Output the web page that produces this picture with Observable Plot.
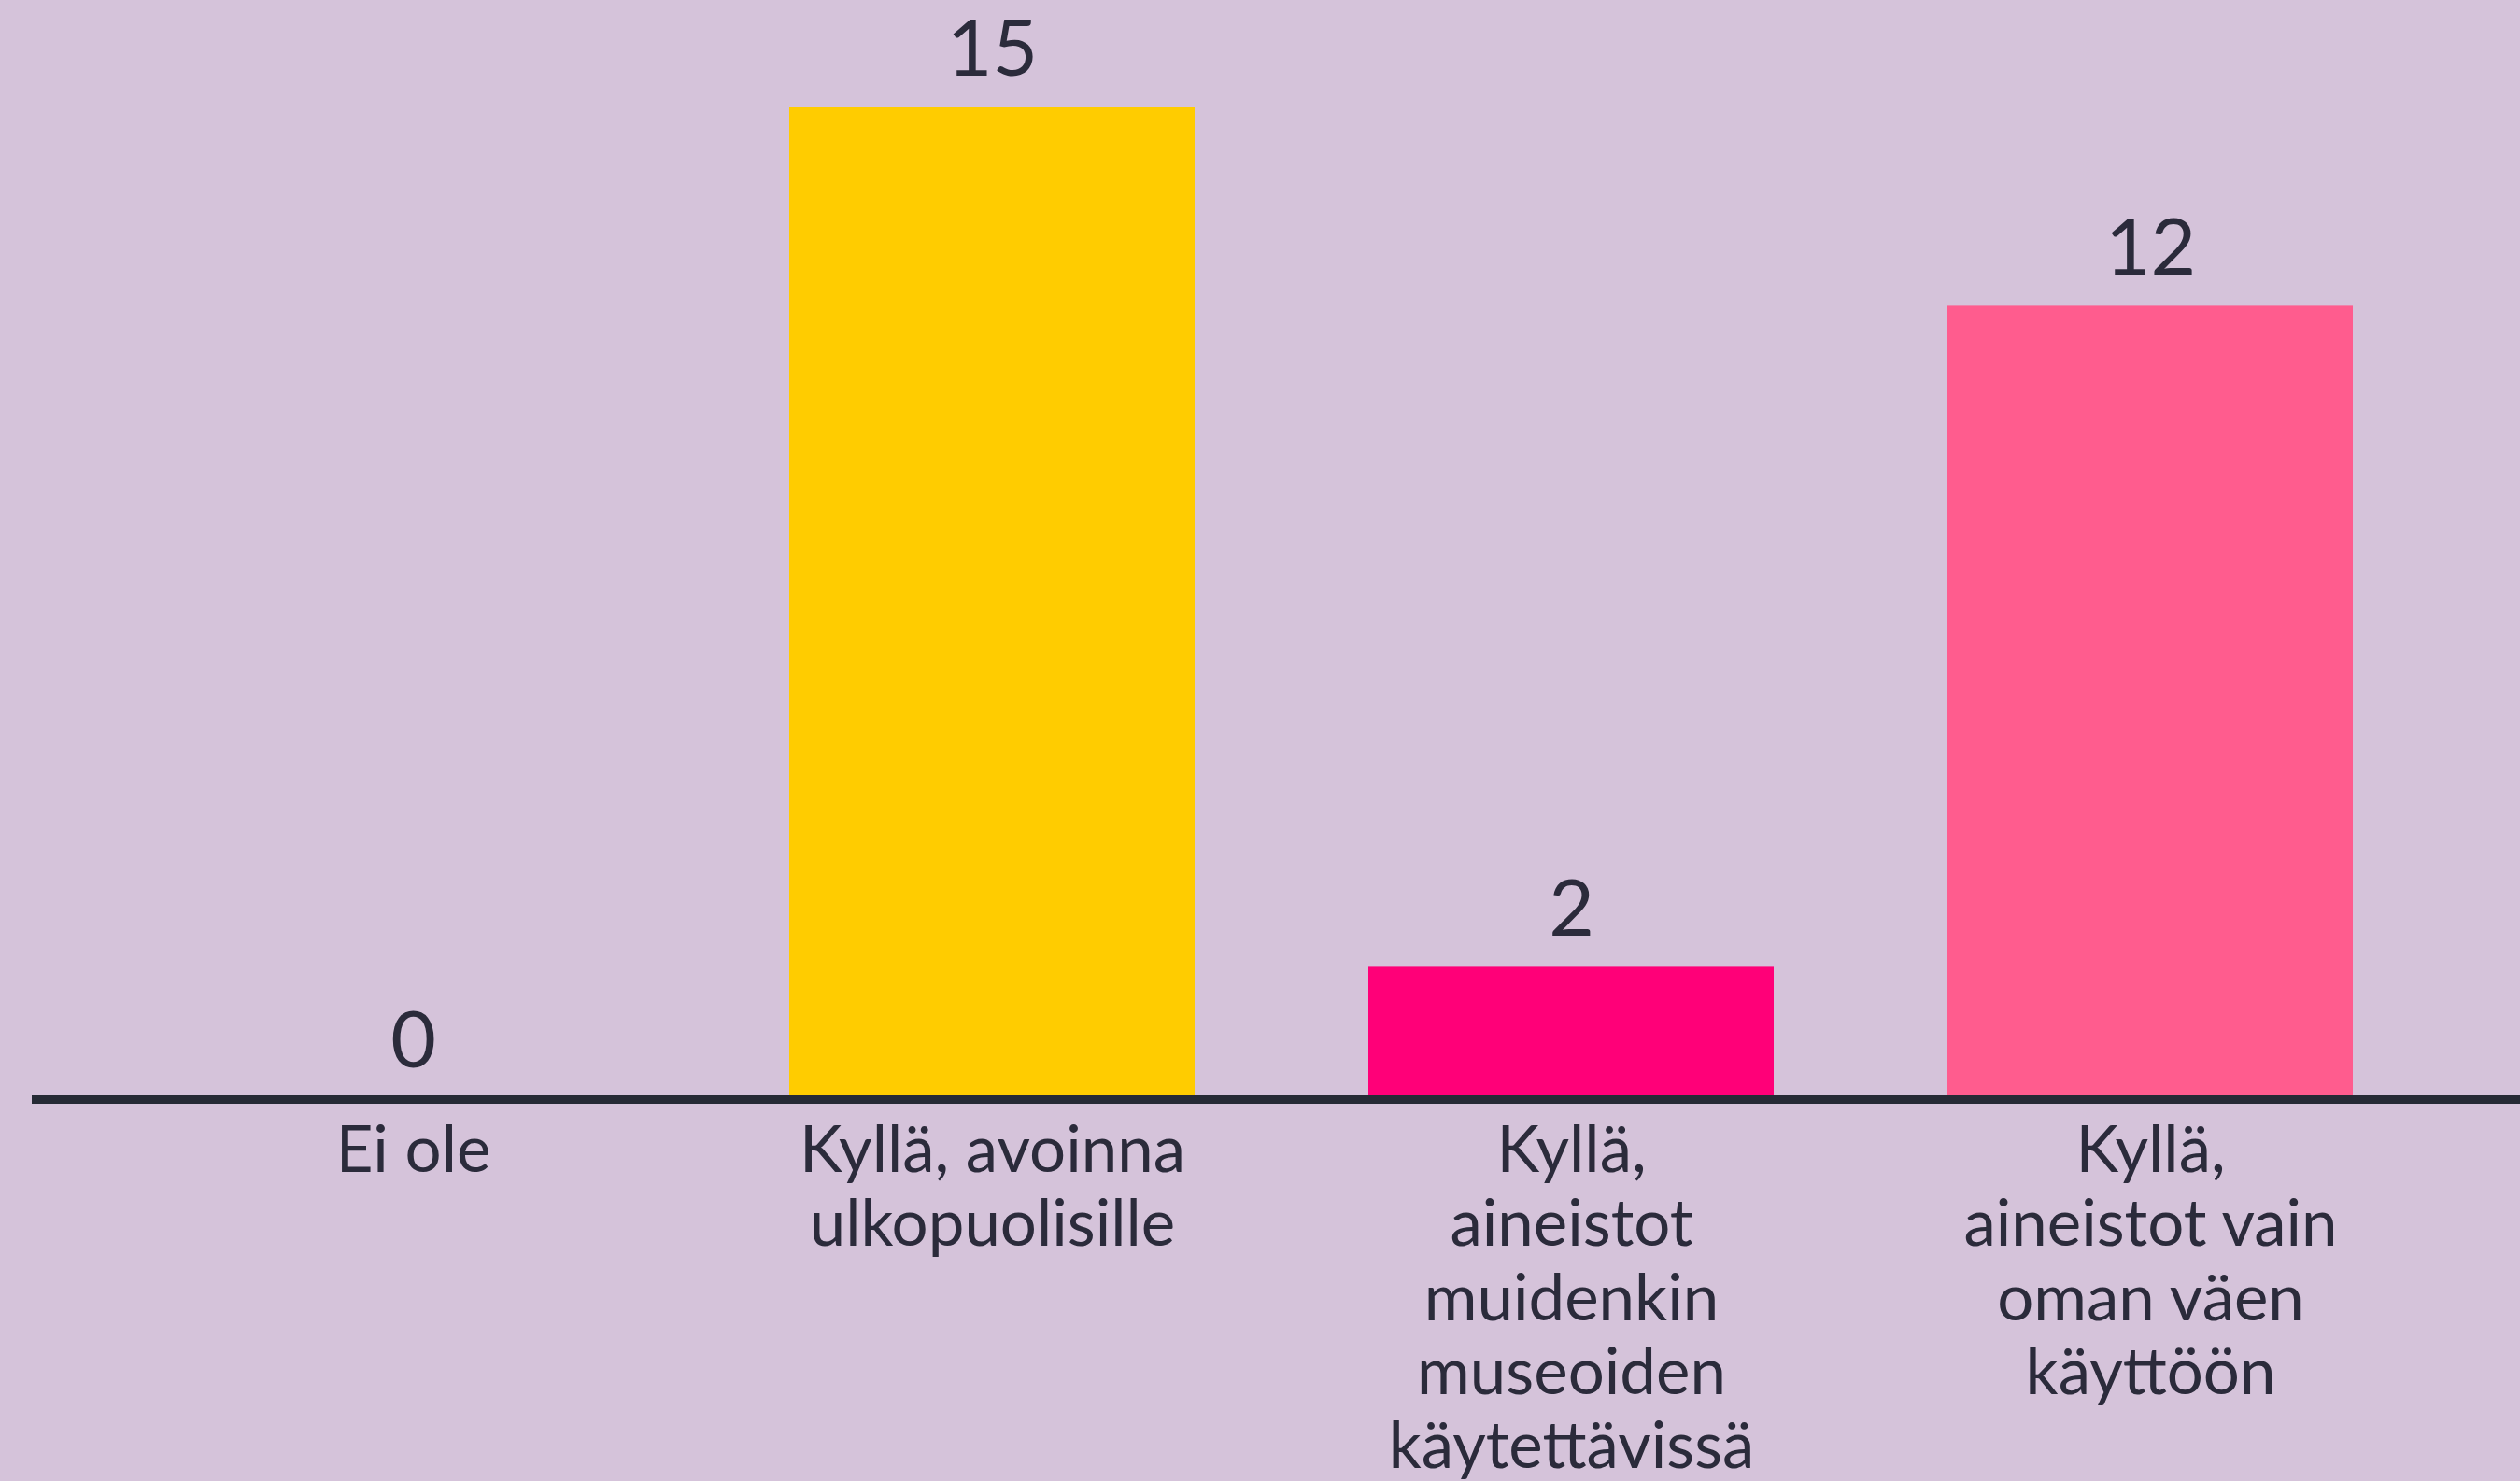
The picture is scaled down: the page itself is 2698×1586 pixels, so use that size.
<!DOCTYPE html>
<html>
<head>
<meta charset="utf-8">
<script src="https://cdn.jsdelivr.net/npm/d3@7"></script>
<script src="https://cdn.jsdelivr.net/npm/@observablehq/plot@0.6"></script>
<style>
  html, body { margin: 0; padding: 0; background: #D5C3DA; }
  #chart svg { display: block; }
</style>
</head>
<body>
<div id="chart"></div>
<script>
const categories = [
  "Ei ole",
  "Kyllä, avoinna\nulkopuolisille",
  "Kyllä,\naineistot\nmuidenkin\nmuseoiden\nkäytettävissä",
  "Kyllä,\naineistot vain\noman väen\nkäyttöön"
];
const values = [0, 15, 2, 12];
const barColors = ["#FFCC00", "#FFCC00", "#FF0078", "#FF5C8E"];

const data = categories.map((c, i) => ({category: c, value: values[i]}));

const chart = Plot.plot({
  width: 2698,
  height: 1586,
  marginTop: 115,
  marginBottom: 409,
  marginLeft: 34,
  marginRight: 0,
  style: {background: "#D5C3DA", fontFamily: "Lato, sans-serif", color: "#2B2B3B"},
  x: {domain: categories, padding: 0.3, range: [37, 2706], label: null},
  y: {domain: [0, 15], axis: null},
  color: {domain: categories, range: barColors},
  marks: [
    Plot.barY(data, {x: "category", y: "value", fill: "category"}),
    Plot.ruleY([0], {stroke: "#262A35", strokeWidth: 9}),
    Plot.text(data, {x: "category", y: "value", text: d => String(d.value), dy: -61, lineAnchor: "middle", fontSize: 84, fill: "#2B2B3B"}),
    Plot.axisX({tickSize: 0, tickPadding: 21, fontSize: 69, lineHeight: 1.15, fill: "#2B2B3B", label: null})
  ]
});
document.getElementById("chart").appendChild(chart);
</script>
</body>
</html>
